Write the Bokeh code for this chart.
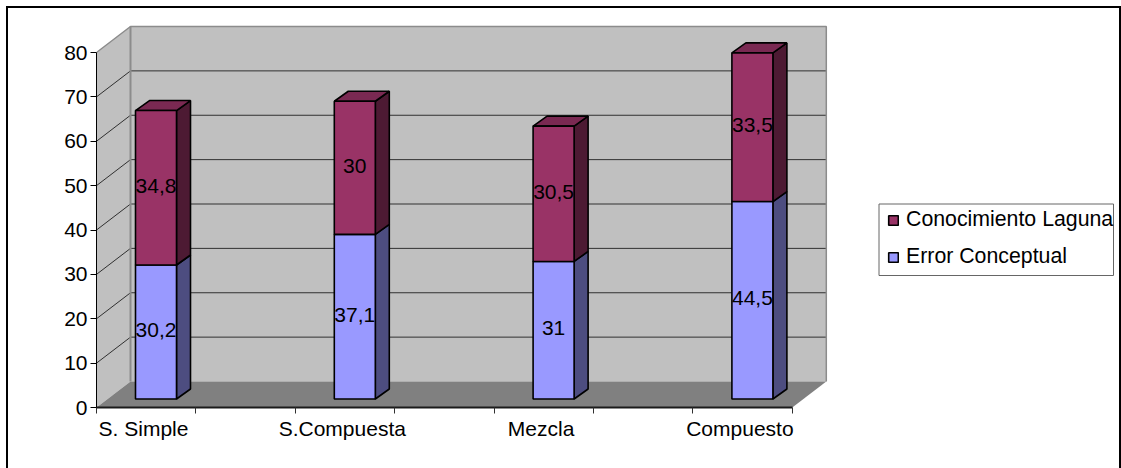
from bokeh.embed import file_html
from bokeh.resources import INLINE
from bokeh.plotting import figure
from bokeh.models import BoxAnnotation, ColumnDataSource, FixedTicker, InlineStyleSheet, Legend, LegendItem, Range1d
from bokeh.core.properties import value

# Chart values
categories = ["S. Simple", "S.Compuesta", "Mezcla", "Compuesto"]
error_conceptual = [30.2, 37.1, 31, 44.5]
conocimiento_laguna = [34.8, 30, 30.5, 33.5]
series_names = ["Error Conceptual", "Conocimiento Laguna"]
y_ticks = [0, 10, 20, 30, 40, 50, 60, 70, 80]

FONT = "Liberation Sans"
FONT_SIZE = "21px"

# Scale: pixels per data unit on each axis
PX_X, PX_Y = 198.8, 4.4375
W, H, LEFT, BOTTOM = 1121, 468, 96, 61

# Extent of the floor and the depth of the 3D box, in data units
X_END = 3.5
WALL_DX, WALL_DY = 34 / PX_X, 26 / PX_Y
BAR_W = 41 / PX_X
BAR_DX, BAR_DY = 14 / PX_X, 10 / PX_Y
BAR_X0 = 39 / PX_X              # left edge of the first bar
BAR_Y0 = 8.5 / PX_Y             # bars stand part-way into the floor
LABEL_X0 = 47 / PX_X            # centre of the first category label

# Outer chart border, open at the bottom edge of the page
border_css = InlineStyleSheet(css="""
:host { position: relative; }
:host::after {
  content: ""; position: absolute; left: 6px; top: 6px; width: 1115px; height: 462px;
  box-sizing: border-box; border: 2px solid black; border-bottom: none;
  pointer-events: none; z-index: 10;
}
""")

p = figure(
    width=W, height=H, output_backend="svg", toolbar_location=None,
    x_range=Range1d(0, (W - LEFT) / PX_X), y_range=Range1d(0, (H - BOTTOM) / PX_Y),
    min_border_left=LEFT, min_border_bottom=BOTTOM, min_border_top=0, min_border_right=0,
    outline_line_color=None, background_fill_color="white", border_fill_color="white",
    stylesheets=[border_css],
)
p.grid.visible = False

# Walls and floor of the 3D box
WALL = "#C0C0C0"
WALL_EDGE = "#8C8C8C"
p.patch([0, WALL_DX, WALL_DX, 0], [0, WALL_DY, 80 + WALL_DY, 80], fill_color=WALL, line_color=None)
p.quad(left=[WALL_DX], right=[X_END + WALL_DX], bottom=[WALL_DY], top=[80 + WALL_DY],
       fill_color=WALL, line_color=None)
p.patch([0, X_END, X_END + WALL_DX, WALL_DX], [0, 0, WALL_DY, WALL_DY],
        fill_color="#808080", line_color=None)

# Gridlines run up the side wall, then across the back wall
grid_xs = [[0, WALL_DX, X_END + WALL_DX] for v in y_ticks[1:-1]]
grid_ys = [[v, v + WALL_DY, v + WALL_DY] for v in y_ticks[1:-1]]
p.multi_line(grid_xs, grid_ys, line_color="#303030", line_width=1)

# Wall outlines
p.line([0, WALL_DX, X_END + WALL_DX, X_END + WALL_DX],
       [80, 80 + WALL_DY, 80 + WALL_DY, WALL_DY], line_color=WALL_EDGE, line_width=1.5)
p.line([WALL_DX, WALL_DX], [WALL_DY, 80 + WALL_DY], line_color=WALL_EDGE, line_width=2)

# Stacked bars with side and top faces
SERIES_FILL = ["#9999FF", "#993366"]
SERIES_SIDE = ["#4D4D80", "#4D1A33"]
SERIES_TOP = ["#7A2952", "#7A2952"]
EDGE = "black"
LW = 1.6

renderers = []
for s, vals in enumerate([error_conceptual, conocimiento_laguna]):
    lefts, rights, bottoms, tops = [], [], [], []
    for i, v in enumerate(vals):
        base = BAR_Y0 + (error_conceptual[i] if s == 1 else 0)
        x0 = BAR_X0 + i
        x1 = x0 + BAR_W
        p.patch([x1, x1 + BAR_DX, x1 + BAR_DX, x1],
                [base, base + BAR_DY, base + v + BAR_DY, base + v],
                fill_color=SERIES_SIDE[s], line_color=EDGE, line_width=LW)
        if s == 1:
            p.patch([x0, x0 + BAR_DX, x1 + BAR_DX, x1],
                    [base + v, base + v + BAR_DY, base + v + BAR_DY, base + v],
                    fill_color=SERIES_TOP[s], line_color=EDGE, line_width=LW)
        lefts.append(x0)
        rights.append(x1)
        bottoms.append(base)
        tops.append(base + v)
    r = p.quad(left=lefts, right=rights, bottom=bottoms, top=tops,
               fill_color=SERIES_FILL[s], line_color=EDGE, line_width=LW)
    renderers.append(r)

    labels = ColumnDataSource(dict(
        x=[(a + b) / 2 for a, b in zip(lefts, rights)],
        y=[(a + b) / 2 for a, b in zip(bottoms, tops)],
        t=[f"{v:g}".replace(".", ",") for v in vals],
    ))
    p.text("x", "y", text="t", source=labels, text_align="center", text_baseline="middle",
           text_font=value(FONT), text_font_size=FONT_SIZE, text_color="black", y_offset=-2)

# Axes
xaxis, yaxis = p.xaxis[0], p.yaxis[0]
yaxis.ticker = FixedTicker(ticks=y_ticks)
yaxis.bounds = (0, 80)
yaxis.axis_line_color = "black"
yaxis.axis_line_width = 1
yaxis.major_tick_in = 0
yaxis.major_tick_out = 6
yaxis.minor_tick_line_color = None
yaxis.major_label_standoff = 3
yaxis.major_label_text_font = FONT
yaxis.major_label_text_font_size = FONT_SIZE
yaxis.major_label_text_color = "black"

label_positions = [LABEL_X0 + i for i in range(len(categories))]
xaxis.ticker = FixedTicker(ticks=label_positions, minor_ticks=[k / 2 for k in range(8)])
xaxis.major_label_overrides = dict(zip(label_positions, categories))
xaxis.bounds = (0, X_END)
xaxis.axis_line_color = "#1A1A1A"
xaxis.axis_line_width = 2
xaxis.major_tick_line_color = None
xaxis.major_tick_in = 0
xaxis.major_tick_out = 0
xaxis.minor_tick_in = 0
xaxis.minor_tick_out = 6
xaxis.minor_tick_line_color = "#303030"
xaxis.major_label_standoff = 3
xaxis.major_label_text_font = FONT
xaxis.major_label_text_font_size = FONT_SIZE
xaxis.major_label_text_color = "black"

# Legend box and its entries
p.add_layout(BoxAnnotation(
    left=878.5, right=1113, top=203.5, bottom=275,
    left_units="canvas", right_units="canvas", top_units="canvas", bottom_units="canvas",
    fill_color="white", fill_alpha=1, line_color="#666666", line_alpha=1, line_width=1, level="annotation",
))
legend = Legend(
    items=[LegendItem(label=series_names[1], renderers=[renderers[1]]),
           LegendItem(label=series_names[0], renderers=[renderers[0]])],
    location=(887 - LEFT, (H - BOTTOM) - 269),
    orientation="vertical", padding=0, margin=0, spacing=12,
    glyph_width=12, glyph_height=12, label_standoff=7, label_height=24,
    border_line_color=None, background_fill_alpha=0,
    label_text_font=FONT, label_text_font_size="21.3px", label_text_color="black",
)
p.add_layout(legend, "center")

open("out.html", "w").write(file_html(p, INLINE))
